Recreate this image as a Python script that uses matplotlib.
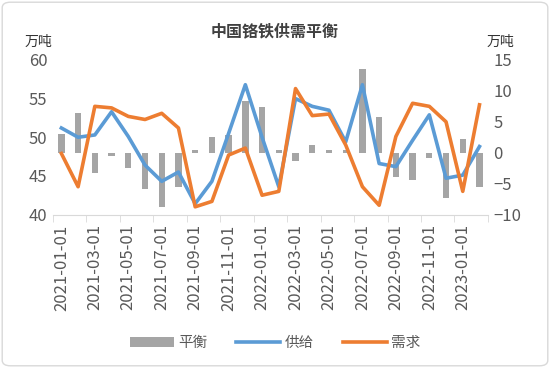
import matplotlib
matplotlib.use('Agg')
import numpy as np
import pandas as pd
from matplotlib import pyplot as plt
from matplotlib.patches import FancyBboxPatch

plt.rcParams['font.family'] = ['Noto Sans CJK SC', 'DejaVu Sans']

months = pd.date_range('2021-01-01', '2023-02-01', freq='MS')
labels = [d.strftime('%Y-%m-%d') for d in months]

# 万吨
supply = [51.2, 50.0, 50.3, 53.3, 50.1, 46.4, 44.3, 45.5, 41.4, 44.3, 50.5, 56.8, 50.0,
          43.6, 55.0, 54.0, 53.5, 49.4, 56.8, 46.6, 46.2, 49.6, 52.9, 44.7, 45.1, 48.8]
demand = [47.9, 43.6, 54.0, 53.8, 52.7, 52.3, 53.1, 51.2, 41.0, 41.7, 47.7, 48.6, 42.5,
          43.0, 56.3, 52.8, 53.0, 49.0, 43.6, 41.2, 50.1, 54.4, 54.0, 52.0, 43.0, 54.2]
balance = [3.1, 6.4, -3.3, -0.5, -2.5, -5.8, -8.7, -5.5, 0.4, 2.6, 2.9, 8.3, 7.4,
           0.4, -1.3, 1.2, 0.4, 0.4, 13.5, 5.7, -3.9, -4.4, -0.9, -7.4, 2.3, -5.5]

grey = '#A5A5A5'
blue = '#5B9BD5'
orange = '#ED7D31'
txt = '#595959'

fig = plt.figure(figsize=(5.5, 3.68), dpi=100)
ax2 = fig.add_axes([0.0964, 0.417, 0.7906, 0.42])
ax = ax2.twinx()
ax2.yaxis.tick_right()
ax.yaxis.tick_left()
ax2.set_zorder(1)
ax.set_zorder(2)
ax.patch.set_visible(False)

x = np.arange(len(labels))
ax2.bar(x, balance, width=0.38, color=grey, label='平衡')
ax.plot(x, supply, color=blue, lw=2.6, label='供给', solid_joinstyle='round')
ax.plot(x, demand, color=orange, lw=2.6, label='需求', solid_joinstyle='round')

ax.set_ylim(40, 60)
ax.set_yticks(range(40, 61, 5))
ax2.set_ylim(-10, 15)
ax2.set_yticks(range(-10, 16, 5))
ax2.set_xlim(-0.5, len(labels) - 0.5)

for a in (ax, ax2):
    for s in a.spines.values():
        s.set_visible(False)
    a.tick_params(axis='y', length=0, labelsize=12, labelcolor=txt, pad=4)

ax2.spines['bottom'].set_visible(True)
ax2.spines['bottom'].set_color('#D9D9D9')
ax2.set_xticks(x[::2])
ax2.set_xticklabels(labels[::2], rotation=90, fontsize=12, color=txt)
ax2.set_xticks(np.arange(-0.5, len(labels), 2), minor=True)
ax2.tick_params(axis='x', which='major', length=0, pad=7)
ax2.tick_params(axis='x', which='minor', length=5, color='#D9D9D9')

fig.text(0.5, 0.915, '中国铬铁供需平衡', ha='center', va='center', fontsize=11.5,
         fontweight='bold', color='#404040')
fig.text(0.045, 0.885, '万吨', ha='left', va='center', fontsize=10, color='#333333')
fig.text(0.885, 0.885, '万吨', ha='left', va='center', fontsize=10, color='#333333')

h1, l1 = ax2.get_legend_handles_labels()
h2, l2 = ax.get_legend_handles_labels()
fig.legend(h1 + h2, l1 + l2, loc='center', bbox_to_anchor=(0.5, 0.068), ncol=3,
           frameon=False, fontsize=10.5, labelcolor=txt, handlelength=3,
           handletextpad=0.3, columnspacing=2.0)

fig.patches.append(FancyBboxPatch((0.004, 0.006), 0.992, 0.988,
                                  boxstyle='round,pad=0,rounding_size=0.015',
                                  transform=fig.transFigure, fill=False,
                                  edgecolor='#D9D9D9', lw=1))

fig.savefig('out.png', dpi=100)
